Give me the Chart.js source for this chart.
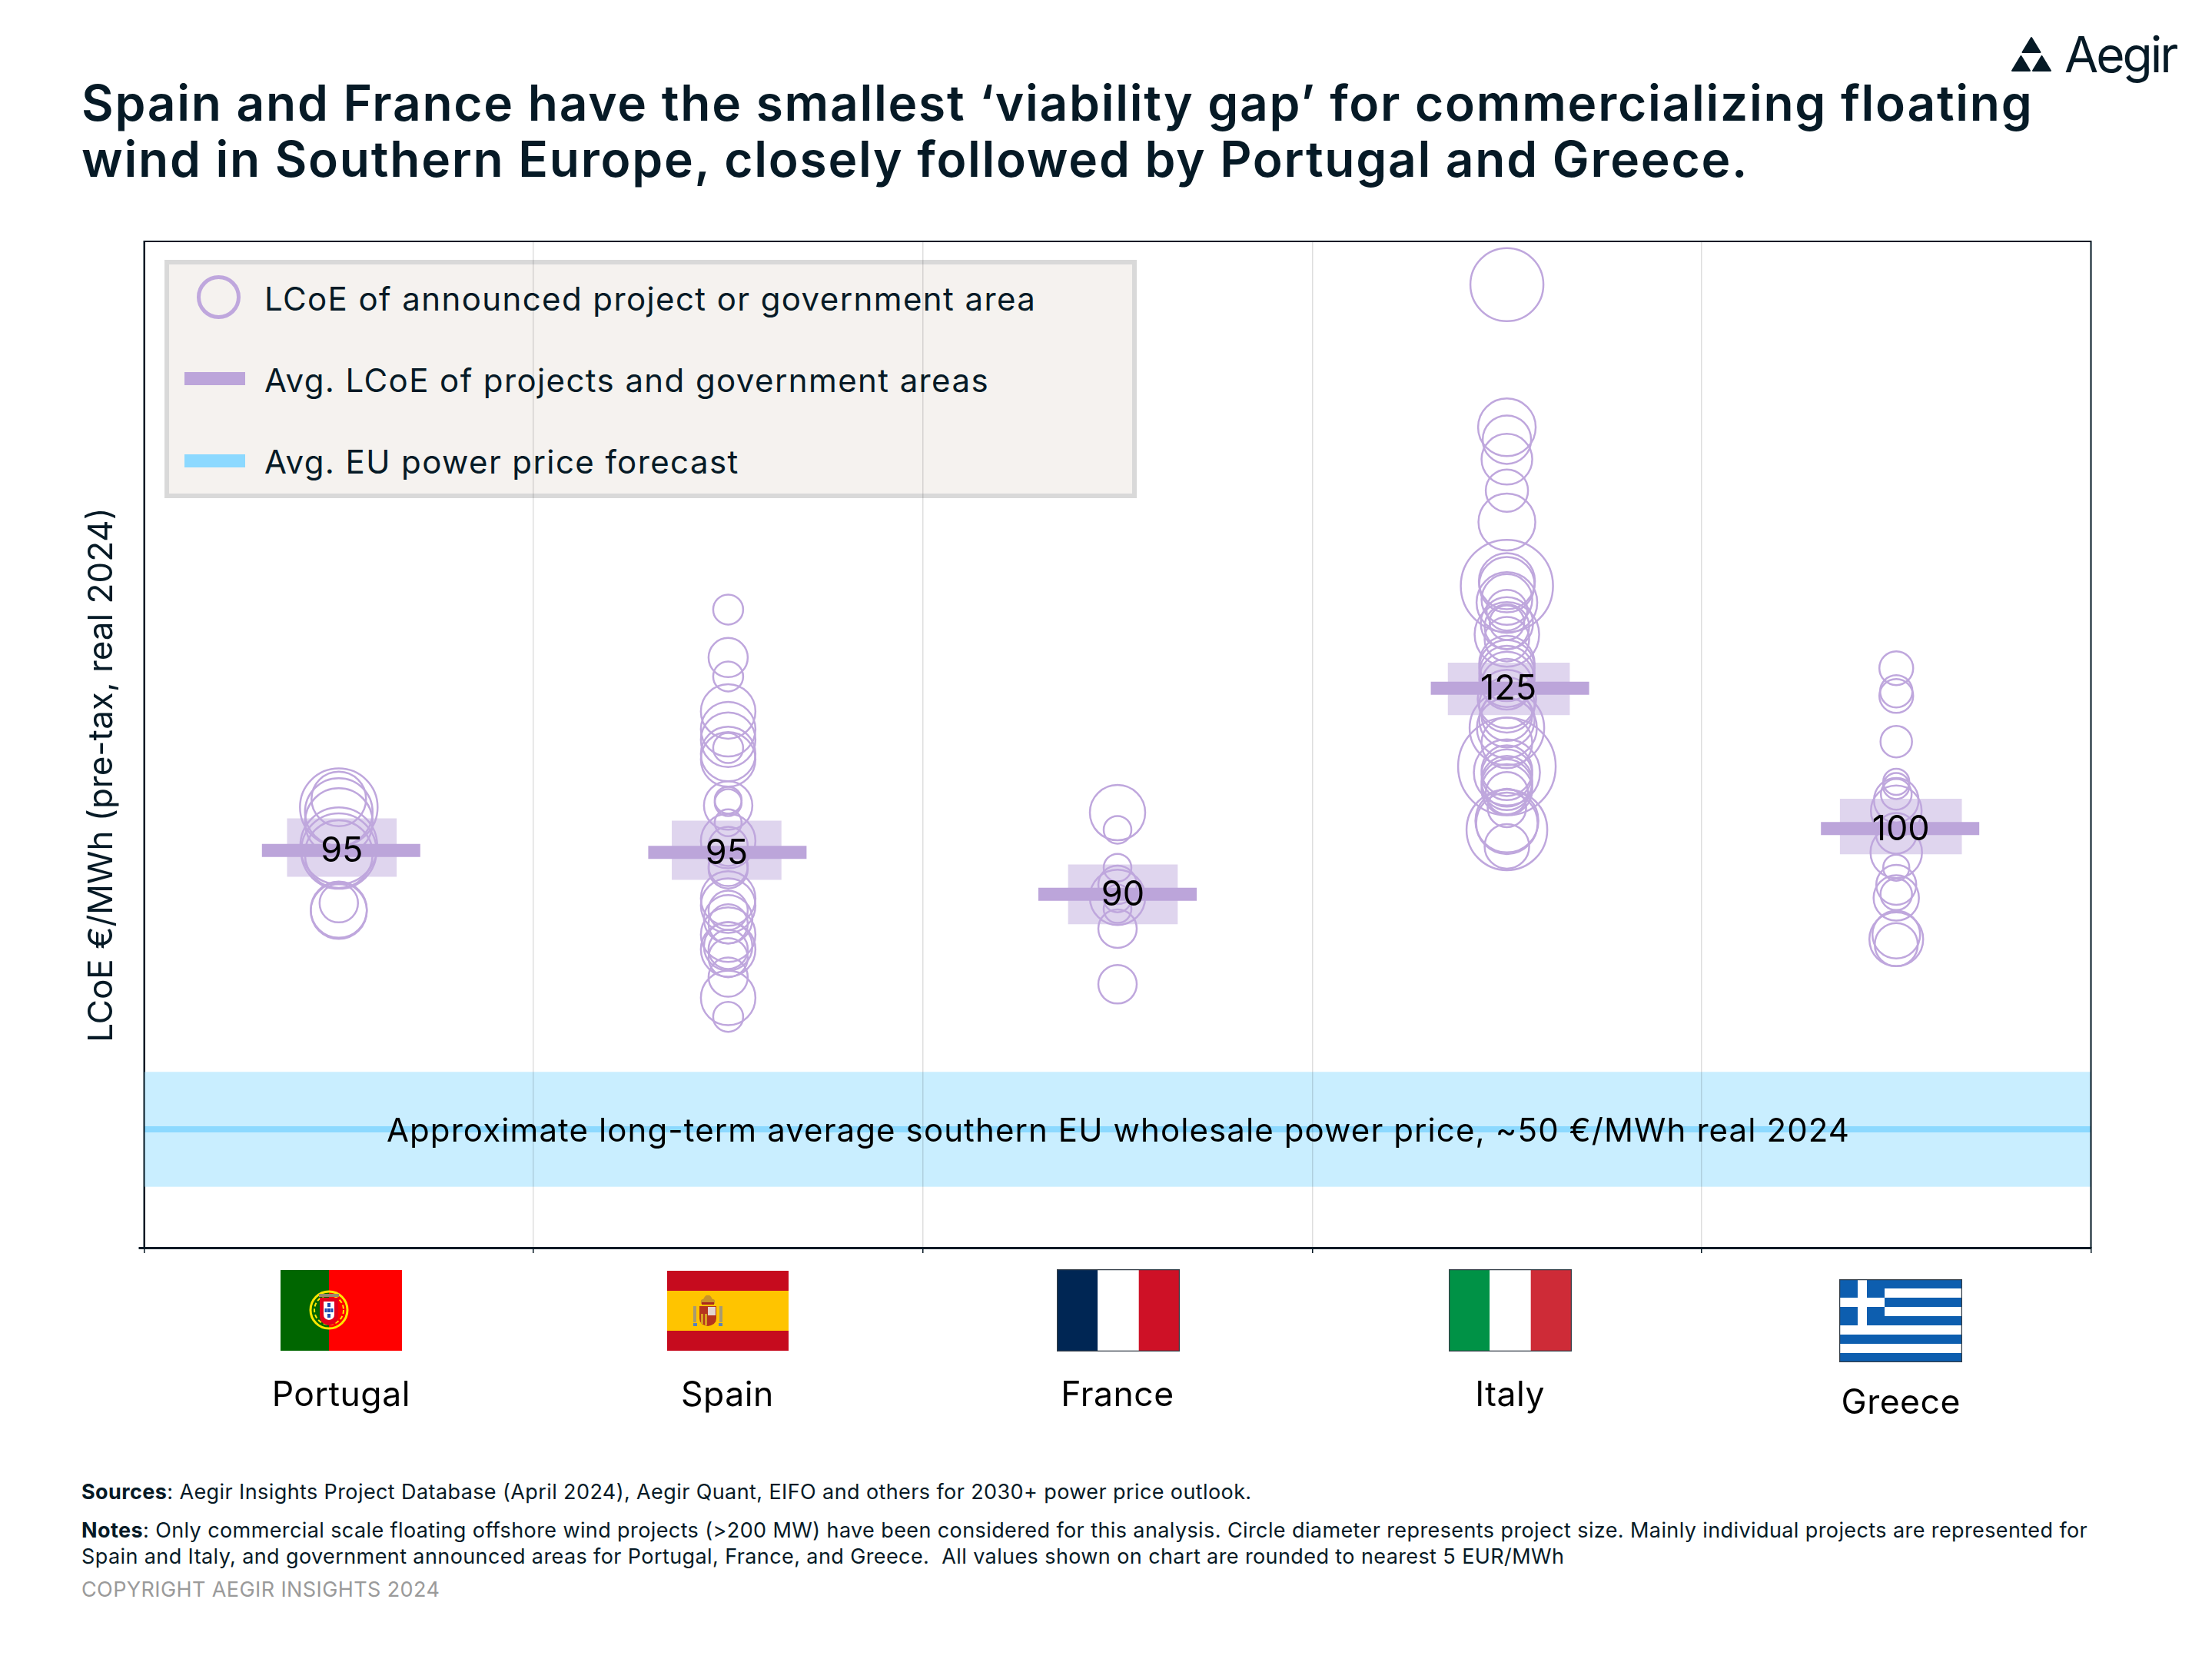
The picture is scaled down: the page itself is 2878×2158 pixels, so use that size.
<!DOCTYPE html>
<html>
<head>
<meta charset="utf-8">
<title>Floating wind viability gap</title>
<script src="https://cdn.jsdelivr.net/npm/chart.js@4/dist/chart.umd.js"></script>
<style>
    html, body { margin: 0; padding: 0; background: #fff; }
    body { position: relative; width: 2878px; height: 2158px; overflow: hidden; font-family: Inter, sans-serif; color: #061A26; }
    canvas { position: absolute; left: 0; top: 0; z-index: 2; }
    .line { position: absolute; white-space: nowrap; }
    .title { left: 106px; font-size: 64px; line-height: 73px; font-weight: 600; letter-spacing: 1.75px; }
    .legend-box { position: absolute; left: 214px; top: 338px; width: 1253px; height: 298px; border: 6px solid #D9D9D9; background: #F5F2EF; z-index: 1; }
    .legend-text { left: 344px; font-size: 42px; line-height: 50px; letter-spacing: 1.4px; z-index: 1; }
    .legend-bar { position: absolute; left: 240px; width: 79px; height: 17px; z-index: 1; }
    .legend-ring { position: absolute; left: 256px; top: 358px; width: 47px; height: 47px; border: 5px solid #BFA7DD; border-radius: 50%; z-index: 1; }
    .foot { left: 106px; font-size: 27px; line-height: 34px; letter-spacing: 0.4px; color: #061A26; }
    .flag { position: absolute; z-index: 3; }
    .logo-text { left: 2686px; top: 32px; font-size: 64px; line-height: 78px; font-weight: 400; letter-spacing: -3px; }
</style>
</head>
<body>
<div class="line title" style="top:97px">Spain and France have the smallest ‘viability gap’ for commercializing floating</div>
<div class="line title" style="top:170px">wind in Southern Europe, closely followed by Portugal and Greece.</div>

<svg class="flag" style="left:2610px;top:40px" width="66" height="58" viewBox="0 0 66 58">
    <path d="M33 9 L44.5 28 H21.5 Z M19.5 33 L31 52 H8 Z M46.5 33 L58 52 H35 Z" fill="#061A26" stroke="#061A26" stroke-width="2" stroke-linejoin="round"/>
</svg>
<div class="line logo-text">Aegir</div>

<div class="legend-box"></div>
<div class="legend-ring"></div>
<div class="legend-bar" style="top:484px;background:#BCA5DA"></div>
<div class="legend-bar" style="top:591px;background:#8CD9FF"></div>
<div class="line legend-text" style="top:364px">LCoE of announced project or government area</div>
<div class="line legend-text" style="top:470px">Avg. LCoE of projects and government areas</div>
<div class="line legend-text" style="top:576px">Avg. EU power price forecast</div>

<canvas id="chart" width="2878" height="2158"></canvas>

<svg class="flag" style="left:365px;top:1652px" width="158" height="105" viewBox="0 0 158 105">
    <rect width="63" height="105" fill="#006600"/>
    <rect x="63" width="95" height="105" fill="#FF0000"/>
    <circle cx="63" cy="52" r="24" fill="none" stroke="#FFE600" stroke-width="3"/>
    <circle cx="63" cy="52" r="19" fill="none" stroke="#FFE600" stroke-width="2" stroke-dasharray="5 3"/>
    <path d="M51 36 H75 V60 Q75 70 63 72 Q51 70 51 60 Z" fill="#E3001B"/>
    <rect x="50" y="31" width="26" height="4" fill="#9A8A70"/>
    <path d="M56 41 H70 V58 Q70 64 63 65 Q56 64 56 58 Z" fill="#fff"/>
    <path d="M61 43 h4 v5 h-4 Z M61 50 h4 v5 h-4 Z M61 57 h4 v5 h-4 Z M57.5 50 h3 v5 h-3 Z M65.5 50 h3 v5 h-3 Z" fill="#1F4BB0"/>
</svg>
<svg class="flag" style="left:868px;top:1653px" width="158" height="104" viewBox="0 0 158 104">
    <rect width="158" height="104" fill="#C60B1E"/>
    <rect y="26" width="158" height="52" fill="#FFC400"/>
    <rect x="34" y="46" width="4" height="21" fill="#A89A70"/>
    <rect x="68" y="46" width="4" height="21" fill="#A89A70"/>
    <path d="M34 68 h5 v4 h-5 Z M67 68 h5 v4 h-5 Z" fill="#5B82B8"/>
    <path d="M42 46 H64 V62 Q64 70 53 72 Q42 70 42 62 Z" fill="#B5341E"/>
    <rect x="53" y="47" width="10" height="11" fill="#E3D5D0"/>
    <path d="M44 56 h3 v13 h-3 Z M49 56 h3 v15 h-3 Z" fill="#D9A020"/>
    <path d="M44 43 Q43 36 47 37 Q50 31 53 32 Q56 31 59 37 Q63 36 62 43 Z" fill="#C8922A"/>
    <rect x="45" y="41" width="16" height="3" fill="#A8281E"/>
</svg>
<svg class="flag" style="left:1375px;top:1651px" width="160" height="107" viewBox="0 0 160 107">
    <rect x="0" width="53.3" height="107" fill="#002654"/>
    <rect x="53.3" width="53.4" height="107" fill="#fff"/>
    <rect x="106.7" width="53.3" height="107" fill="#CE1126"/>
    <rect x="0.5" y="0.5" width="159" height="106" fill="none" stroke="#333D47" stroke-width="1.5"/>
</svg>
<svg class="flag" style="left:1885px;top:1651px" width="160" height="107" viewBox="0 0 160 107">
    <rect x="0" width="53.3" height="107" fill="#009246"/>
    <rect x="53.3" width="53.4" height="107" fill="#fff"/>
    <rect x="106.7" width="53.3" height="107" fill="#CE2B37"/>
    <rect x="0.5" y="0.5" width="159" height="106" fill="none" stroke="#333D47" stroke-width="1.5"/>
</svg>
<svg class="flag" style="left:2393px;top:1664px" width="160" height="108" viewBox="0 0 160 108">
    <rect width="160" height="108" fill="#0D5EAF"/>
    <rect y="12" width="160" height="12" fill="#fff"/>
    <rect y="36" width="160" height="12" fill="#fff"/>
    <rect y="60" width="160" height="12" fill="#fff"/>
    <rect y="84" width="160" height="12" fill="#fff"/>
    <rect width="59" height="60" fill="#0D5EAF"/>
    <rect x="24" width="12" height="60" fill="#fff"/>
    <rect y="24" width="59" height="12" fill="#fff"/>
    <rect x="0.5" y="0.5" width="159" height="107" fill="none" stroke="#333D47" stroke-width="1.5"/>
</svg>

<div class="line foot" style="top:1924px"><b>Sources</b>: Aegir Insights Project Database (April 2024), Aegir Quant, EIFO and others for 2030+ power price outlook.</div>
<div class="line foot" style="top:1974px"><b>Notes</b>: Only commercial scale floating offshore wind projects (&gt;200 MW) have been considered for this analysis. Circle diameter represents project size. Mainly individual projects are represented for</div>
<div class="line foot" style="top:2008px">Spain and Italy, and government announced areas for Portugal, France, and Greece.&nbsp; All values shown on chart are rounded to nearest 5 EUR/MWh</div>
<div class="line foot" style="top:2051px;color:#9A9A9A">COPYRIGHT AEGIR INSIGHTS 2024</div>

<script>
const categories = ['Portugal', 'Spain', 'France', 'Italy', 'Greece'];
const avgLcoe = [97.1, 96.8, 89.7, 124.5, 100.8];
const avgLabels = ['95', '95', '90', '125', '100'];
const rangeLow = [92.7, 92.2, 84.7, 120, 96.5];
const rangeHigh = [102.5, 102.1, 94.7, 128.8, 105.8];
const powerPrice = 50;
const powerPriceLow = 40.3;
const powerPriceHigh = 59.7;
const yTitle = 'LCoE €/MWh (pre-tax, real 2024)';
const bandCaption = 'Approximate long-term average southern EU wholesale power price, ~50 €/MWh real 2024';

// project LCoE and an estimated project size (MW), read off circle diameters
const portugalLcoe = [104.4, 105.8, 103.6, 101.9, 97, 96.5, 97.9, 87.1, 86.9, 88.2];
const portugalSize = [1010, 710, 880, 880, 980, 880, 1000, 730, 730, 500];
const spainLcoe = [137.8, 129.7, 126.5, 120.6, 117.6, 115.8, 113.4, 112.5, 114.4, 104.7, 105.6, 105.2, 101.8, 98.7, 97.8, 94.4, 94, 89, 87.8, 87, 85.5, 84.7, 82.9, 80.9, 80.4, 80.4, 79, 75.7, 72.2, 69];
const spainSize = [390, 510, 390, 710, 710, 710, 710, 710, 390, 630, 350, 350, 350, 710, 510, 510, 510, 710, 710, 510, 630, 510, 710, 630, 510, 710, 510, 510, 710, 390];
const franceLcoe = [103.5, 100.6, 94.2, 91.3, 89.2, 87.2, 89, 83.9, 74.5];
const franceSize = [720, 360, 360, 500, 720, 360, 360, 500, 500];
const italyLcoe = [192.7, 168.6, 166.5, 163.2, 157.9, 152.6, 141.8, 142.6, 142, 139, 139.5, 137.7, 135.5, 133.6, 134.9, 135.6, 132.8, 128.7, 128, 127, 126, 125.2, 122.7, 121.7, 119.9, 119.2, 117.8, 117.8, 115.3, 111.3, 110.3, 110.6, 109.9, 108.8, 108.2, 107.4, 106.8, 104.3, 102.1, 101.7, 100.6, 97.8];
const italySize = [950, 750, 630, 660, 550, 740, 1200, 730, 720, 790, 660, 530, 680, 840, 580, 450, 580, 720, 720, 720, 720, 660, 760, 720, 660, 720, 970, 780, 660, 1270, 860, 660, 660, 660, 660, 660, 550, 500, 820, 800, 1050, 580];
const greeceLcoe = [127.9, 124, 123.2, 115.5, 108.7, 105.6, 106.6, 108, 103.8, 100, 96.8, 94.2, 91.3, 89.1, 89.7, 82.1, 82.9, 81.2];
const greeceSize = [440, 420, 440, 410, 340, 580, 400, 340, 660, 530, 670, 340, 520, 590, 410, 700, 620, 560];

const lcoeByCategory = [portugalLcoe, spainLcoe, franceLcoe, italyLcoe, greeceLcoe];
const sizeByCategory = [portugalSize, spainSize, franceSize, italySize, greeceSize];

const INK = '#061A26';
const PURPLE = '#BCA5DA';
const MW_PER_RADIUS_PX = 20;

// the marks in the original sit a few px off their category centre
const barNudge = [3, -1, 0, 4, 5];
const bandNudge = [4, -2, 7, 2.5, 6];
const labelNudge = [4, -2, 7, 2, 6];
const nameNudge = [3, -1, 0, 4, 6];
const bandWidth = [142, 142, 142, 158, 158];

const projects = [];
categories.forEach((category, i) => {
    lcoeByCategory[i].forEach((lcoe, j) => {
        projects.push({ x: category, y: lcoe, r: sizeByCategory[i][j] / MW_PER_RADIUS_PX });
    });
});

const annotations = {
    id: 'annotations',
    beforeDatasetsDraw(chart) {
        const { ctx, chartArea, scales: { y } } = chart;
        ctx.save();
        ctx.fillStyle = '#C9EEFF';
        ctx.fillRect(chartArea.left, y.getPixelForValue(powerPriceHigh), chartArea.width, y.getPixelForValue(powerPriceLow) - y.getPixelForValue(powerPriceHigh));
        ctx.fillStyle = '#8CD9FF';
        ctx.fillRect(chartArea.left, y.getPixelForValue(powerPrice) - 4, chartArea.width, 8);
        ctx.restore();
    },
    afterDatasetsUpdate(chart) {
        const bands = chart.getDatasetMeta(0).data;
        const avgs = chart.getDatasetMeta(2).data;
        categories.forEach((c, i) => {
            bands[i].x += bandNudge[i];
            bands[i].width = bandWidth[i];
            avgs[i].x += barNudge[i];
        });
    },
    afterDraw(chart) {
        const { ctx, chartArea, scales: { x, y } } = chart;
        ctx.save();
        ctx.strokeStyle = INK;
        ctx.lineWidth = 2;
        ctx.strokeRect(chartArea.left, chartArea.top, chartArea.width, chartArea.height);

        ctx.textAlign = 'center';
        ctx.textBaseline = 'alphabetic';
        ctx.fillStyle = '#000';
        ctx.font = '45px Inter';
        avgLabels.forEach((label, i) => {
            ctx.fillText(label, x.getPixelForValue(i) + labelNudge[i], y.getPixelForValue(avgLcoe[i]) + 15);
        });
        ctx.font = '42px Inter';
        ctx.letterSpacing = '1.1px';
        ctx.fillText(bandCaption, (chartArea.left + chartArea.right) / 2 + 1, y.getPixelForValue(powerPrice) + 16);

        ctx.font = '44.5px Inter';
        ctx.letterSpacing = '0.5px';
        categories.forEach((name, i) => {
            ctx.fillText(name, x.getPixelForValue(i) + nameNudge[i], name === 'Greece' ? 1839 : 1829);
        });

        ctx.translate(146, 1008);
        ctx.rotate(-Math.PI / 2);
        ctx.fillStyle = INK;
        ctx.font = '44px Inter';
        ctx.letterSpacing = '0px';
        ctx.fillText(yTitle, 0, 0);
        ctx.restore();
    }
};

new Chart(document.getElementById('chart'), {
    type: 'bar',
    data: {
        labels: categories,
        datasets: [
            {
                label: 'Range',
                data: rangeLow.map((low, i) => [low, rangeHigh[i]]),
                backgroundColor: '#DFD5EE',
                barThickness: 142,
                order: 3
            },
            {
                type: 'bubble',
                label: 'LCoE of announced project or government area',
                data: projects,
                backgroundColor: 'transparent',
                borderColor: '#BFA7DD',
                borderWidth: 2.5,
                order: 2
            },
            {
                type: 'line',
                label: 'Avg. LCoE of projects and government areas',
                data: avgLcoe,
                showLine: false,
                pointStyle: 'line',
                pointRadius: 103,
                pointBorderWidth: 17,
                pointBorderColor: PURPLE,
                order: 1
            }
        ]
    },
    options: {
        responsive: false,
        devicePixelRatio: 1,
        animation: false,
        events: [],
        layout: { padding: { top: 314, right: 157.5, left: 0, bottom: 0 } },
        plugins: { legend: { display: false }, tooltip: { enabled: false } },
        scales: {
            x: {
                type: 'category',
                offset: true,
                afterFit: (scale) => { scale.height = 535; },
                ticks: { display: false },
                // grid sits over the legend box and the bands, border has to draw after it
                grid: { offset: true, color: 'rgba(0,0,0,0.13)', lineWidth: 1.5, tickColor: INK, tickLength: 7, tickWidth: 1.5, z: 1 },
                border: { color: INK, width: 3, z: 2 }
            },
            y: {
                min: 30,
                max: 200,
                afterFit: (scale) => { scale.width = 187.5; },
                afterBuildTicks: (scale) => { scale.ticks = [{ value: 30 }]; },
                ticks: { display: false },
                grid: { drawOnChartArea: false, tickColor: INK, tickLength: 7, tickWidth: 3 },
                border: { color: INK, width: 2 }
            }
        }
    },
    plugins: [annotations]
});
</script>
</body>
</html>
